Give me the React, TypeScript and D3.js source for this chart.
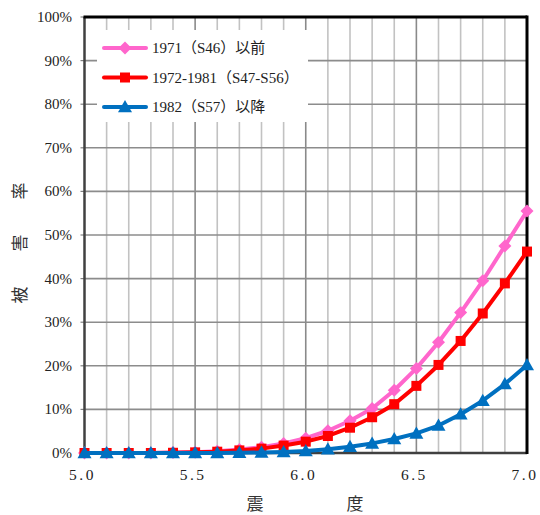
import React from "react";
import * as d3 from "d3";

const intensities = [5.0, 5.1, 5.2, 5.3, 5.4, 5.5, 5.6, 5.7, 5.8, 5.9, 6.0, 6.1, 6.2, 6.3, 6.4, 6.5, 6.6, 6.7, 6.8, 6.9, 7.0];
const before1971 = [0, 0, 0, 0, 0.1, 0.2, 0.4, 0.8, 1.3, 2.2, 3.4, 5.1, 7.4, 10.2, 14.4, 19.4, 25.4, 32.2, 39.5, 47.5, 55.5];
const from1972to1981 = [0, 0, 0, 0, 0.05, 0.15, 0.3, 0.6, 1.0, 1.7, 2.6, 3.9, 5.8, 8.2, 11.2, 15.4, 20.2, 25.7, 32.0, 38.9, 46.2];
const after1982 = [0, 0, 0, 0, 0, 0, 0, 0.05, 0.1, 0.25, 0.45, 0.85, 1.45, 2.2, 3.2, 4.5, 6.3, 8.9, 12.0, 15.8, 20.2];
const seriesNames = ["1971（S46）以前", "1972-1981（S47-S56）", "1982（S57）以降"];
const seriesColors = ["#FF66CC", "#FF0000", "#0070C0"];
const yTicks = [0, 10, 20, 30, 40, 50, 60, 70, 80, 90, 100];
const xTickLabels = ["5.0", "5.5", "6.0", "6.5", "7.0"];
const yTitleChars = ["被", "害", "率"];
const xTitleChars = ["震", "度"];

const serif = "Liberation Serif, Times New Roman, DejaVu Serif, Noto Sans CJK JP, serif";
const cjk = "Noto Sans CJK JP, serif";

function Marker({ kind, x, y, color }: { kind: number; x: number; y: number; color: string }) {
  if (kind === 0) {
    const r = 6.5;
    return <path d={`M${x},${y - r}L${x + r},${y}L${x},${y + r}L${x - r},${y}Z`} fill={color} />;
  }
  if (kind === 1) {
    return <rect x={x - 5} y={y - 5} width={10} height={10} fill={color} />;
  }
  const s = 7;
  return <path d={`M${x},${y - s}L${x + s},${y + s * 0.75}L${x - s},${y + s * 0.75}Z`} fill={color} />;
}

export default function App() {
  const left = 84.5, right = 527, top = 17, bottom = 453;
  const x = d3.scaleLinear().domain([5.0, 7.0]).range([left, right]);
  const y = d3.scaleLinear().domain([0, 100]).range([bottom, top]);
  const series = [before1971, from1972to1981, after1982];
  const line = d3
    .line<number>()
    .x((_, i) => x(intensities[i]))
    .y((d) => y(d));
  const minor = d3.range(1, 20).map((i) => 5 + i * 0.1);

  return (
    <svg width={540} height={515} style={{ position: "absolute", left: 0, top: 0, background: "#fff" }}>
      {minor.map((v, i) => (
        <line
          key={"v" + i}
          x1={x(v)}
          x2={x(v)}
          y1={top}
          y2={bottom}
          stroke={(i + 1) % 5 === 0 ? "#8a8a8a" : "#c2c2c2"}
          strokeWidth={1.6}
        />
      ))}
      {yTicks.slice(1, -1).map((t) => (
        <line key={"h" + t} x1={left} x2={right} y1={y(t)} y2={y(t)} stroke="#8c8c8c" strokeWidth={1.6} />
      ))}
      {yTicks.map((t) => (
        <line key={"yt" + t} x1={left - 4} x2={left} y1={y(t)} y2={y(t)} stroke="#808080" strokeWidth={1.2} />
      ))}
      <rect x={97} y={30} width={211} height={92} fill="#fff" />
      <line x1={left} x2={left} y1={top} y2={bottom} stroke="#404040" strokeWidth={2.5} />
      <line x1={left} x2={right} y1={bottom} y2={bottom} stroke="#404040" strokeWidth={2.5} />
      <line x1={left - 1} x2={right} y1={top} y2={top} stroke="#000" strokeWidth={3} />
      <line x1={right} x2={right} y1={top - 1.5} y2={bottom + 1} stroke="#000" strokeWidth={3} />
      {yTicks.map((t) => (
        <text
          key={"yl" + t}
          x={72}
          y={y(t) + 5}
          textAnchor="end"
          style={{ fontFamily: serif, fontSize: "15px" }}
          fill="#222"
        >
          {t + "%"}
        </text>
      ))}
      {xTickLabels.map((l) => (
        <text
          key={"xl" + l}
          x={x(+l) - 2}
          y={480}
          textAnchor="middle"
          style={{ fontFamily: serif, fontSize: "15.5px", letterSpacing: "2.5px" }}
          fill="#222"
        >
          {l}
        </text>
      ))}
      {xTitleChars.map((c, i) => (
        <text
          key={"xt" + i}
          x={255 + i * 100}
          y={510}
          textAnchor="middle"
          style={{ fontFamily: cjk, fontSize: "17px" }}
          fill="#333"
        >
          {c}
        </text>
      ))}
      {yTitleChars.map((c, i) => (
        <text
          key={"yt" + i}
          transform={`translate(26,${295 - i * 52}) rotate(-90)`}
          textAnchor="middle"
          style={{ fontFamily: cjk, fontSize: "17px" }}
          fill="#333"
        >
          {c}
        </text>
      ))}
      {series.map((s, k) => (
        <g key={"s" + k}>
          <path d={line(s) || ""} fill="none" stroke={seriesColors[k]} strokeWidth={4} strokeLinejoin="round" />
          {s.map((v, i) => (
            <Marker key={i} kind={k} x={x(intensities[i])} y={y(v)} color={seriesColors[k]} />
          ))}
        </g>
      ))}
      {seriesNames.map((n, k) => {
        const ly = 48 + k * 29.5;
        return (
          <g key={"lg" + k}>
            <line x1={104} x2={146} y1={ly} y2={ly} stroke={seriesColors[k]} strokeWidth={4} strokeLinecap="round" />
            <Marker kind={k} x={125} y={ly} color={seriesColors[k]} />
            <text x={152} y={ly + 5} style={{ fontFamily: serif, fontSize: "15px" }} fill="#222">
              {n}
            </text>
          </g>
        );
      })}
    </svg>
  );
}
